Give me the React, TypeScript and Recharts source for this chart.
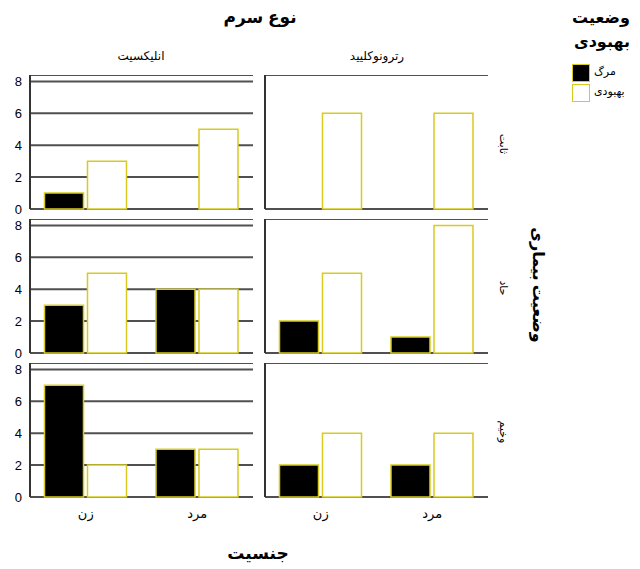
import React from "react";
import { BarChart, Bar, XAxis, YAxis, CartesianGrid } from "recharts";

// condition rows (top to bottom), serum columns (left to right), gender categories
const conditions = ["ثابت", "حاد", "وخیم"];
const serums = ["انلیکسیت", "رترونوکلیید"];
const genders = ["زن", "مرد"];
const yTicks = [0, 2, 4, 6, 8];

// counts per condition row, each pair is [زن, مرد]
const anlixitDeath = [[1, 0], [3, 4], [7, 3]];
const anlixitRecovery = [[3, 5], [5, 4], [2, 3]];
const retroDeath = [[0, 0], [2, 1], [2, 2]];
const retroRecovery = [[6, 6], [5, 8], [4, 4]];

const FONT = "'Liberation Sans', 'DejaVu Sans', Arial, sans-serif";
const BORDER = "#d6cb1e";
const GRID = "#505050";
const ROW_TOPS = [75, 219, 363];
const PLOT_H = 134;
const X_AXIS_H = 30;
const PAD_BOTTOM = 8; // room for the "0" tick label under the plot

function Panel({ col, row }: { col: number; row: number }) {
  const death = col === 0 ? anlixitDeath[row] : retroDeath[row];
  const recovery = col === 0 ? anlixitRecovery[row] : retroRecovery[row];
  const data = genders.map((g, i) => ({ gender: g, death: death[i], recovery: recovery[i] }));
  const isBottom = row === conditions.length - 1;
  const left = col === 0 ? 0 : 258;
  const width = col === 0 ? 260 : 240;
  const yWidth = col === 0 ? 30 : 7;
  const rightMargin = col === 0 ? 7 : 10;
  const bottomMargin = isBottom ? 0 : PAD_BOTTOM;

  return (
    <div style={{ position: "absolute", left, top: ROW_TOPS[row] }}>
      <BarChart
        width={width}
        height={PLOT_H + (isBottom ? X_AXIS_H : PAD_BOTTOM)}
        data={data}
        margin={{ top: 0, right: rightMargin, bottom: bottomMargin, left: 0 }}
        barCategoryGap="13%"
        barGap={4}
      >
        <CartesianGrid vertical={false} stroke={GRID} strokeWidth={2} />
        <XAxis
          dataKey="gender"
          hide={!isBottom}
          height={X_AXIS_H}
          axisLine={false}
          tickLine={false}
          tick={{ fill: "#000", fontSize: 13, fontFamily: FONT }}
          dy={4}
        />
        <YAxis
          width={yWidth}
          domain={[0, 8.4]}
          ticks={yTicks}
          interval={0}
          tickLine={false}
          tick={col === 0 ? { fill: "#000", fontSize: 13, fontFamily: FONT } : false}
          axisLine={{ stroke: "#333", strokeWidth: 2 }}
        />
        <Bar dataKey="death" fill="#000" stroke={BORDER} strokeWidth={1.5} isAnimationActive={false} />
        <Bar dataKey="recovery" fill="#fff" stroke={BORDER} strokeWidth={1.5} isAnimationActive={false} />
      </BarChart>
    </div>
  );
}

const text = (extra: React.CSSProperties): React.CSSProperties => ({
  position: "absolute",
  fontFamily: FONT,
  color: "#000",
  whiteSpace: "nowrap",
  direction: "rtl",
  ...extra,
});

export default function App() {
  return (
    <div style={{ position: "absolute", left: 0, top: 0, width: 640, height: 569, background: "#fff" }}>
      <div style={text({ left: 200, width: 120, top: 7, textAlign: "center", fontSize: 17, fontWeight: "bold" })}>
        نوع سرم
      </div>
      {serums.map((s, i) => (
        <div
          key={s}
          style={text({ left: i === 0 ? 81 : 317, width: 120, top: 49, textAlign: "center", fontSize: 12 })}
        >
          {s}
        </div>
      ))}

      {conditions.map((_, row) =>
        serums.map((_, col) => <Panel key={`${row}-${col}`} row={row} col={col} />)
      )}

      {conditions.map((c, row) => (
        <div
          key={c}
          style={text({
            left: 503,
            top: ROW_TOPS[row] + 69,
            fontSize: 11,
            transform: "translate(-50%, -50%) rotate(90deg)",
          })}
        >
          {c}
        </div>
      ))}
      <div
        style={text({
          left: 538,
          top: 285,
          fontSize: 16,
          fontWeight: "bold",
          transform: "translate(-50%, -50%) rotate(90deg)",
        })}
      >
        وضعیت بیماری
      </div>

      <div style={text({ left: 258, top: 553, fontSize: 17, fontWeight: "bold", transform: "translate(-50%, -50%)" })}>
        جنسیت
      </div>

      {/* legend */}
      <div style={text({ right: 10, top: 6, fontSize: 16, fontWeight: "bold", textAlign: "right", lineHeight: "24px" })}>
        وضعیت
        <br />
        بهبودی
      </div>
      {[
        { label: "مرگ", fill: "#000", top: 64 },
        { label: "بهبودی", fill: "#fff", top: 84 },
      ].map((item) => (
        <div key={item.label}>
          <div
            style={{
              position: "absolute",
              left: 572,
              top: item.top,
              width: 16,
              height: 16,
              background: item.fill,
              border: `1.5px solid ${BORDER}`,
            }}
          />
          <div style={text({ left: 594, top: item.top + 1, fontSize: 11, direction: "rtl" })}>{item.label}</div>
        </div>
      ))}
    </div>
  );
}
